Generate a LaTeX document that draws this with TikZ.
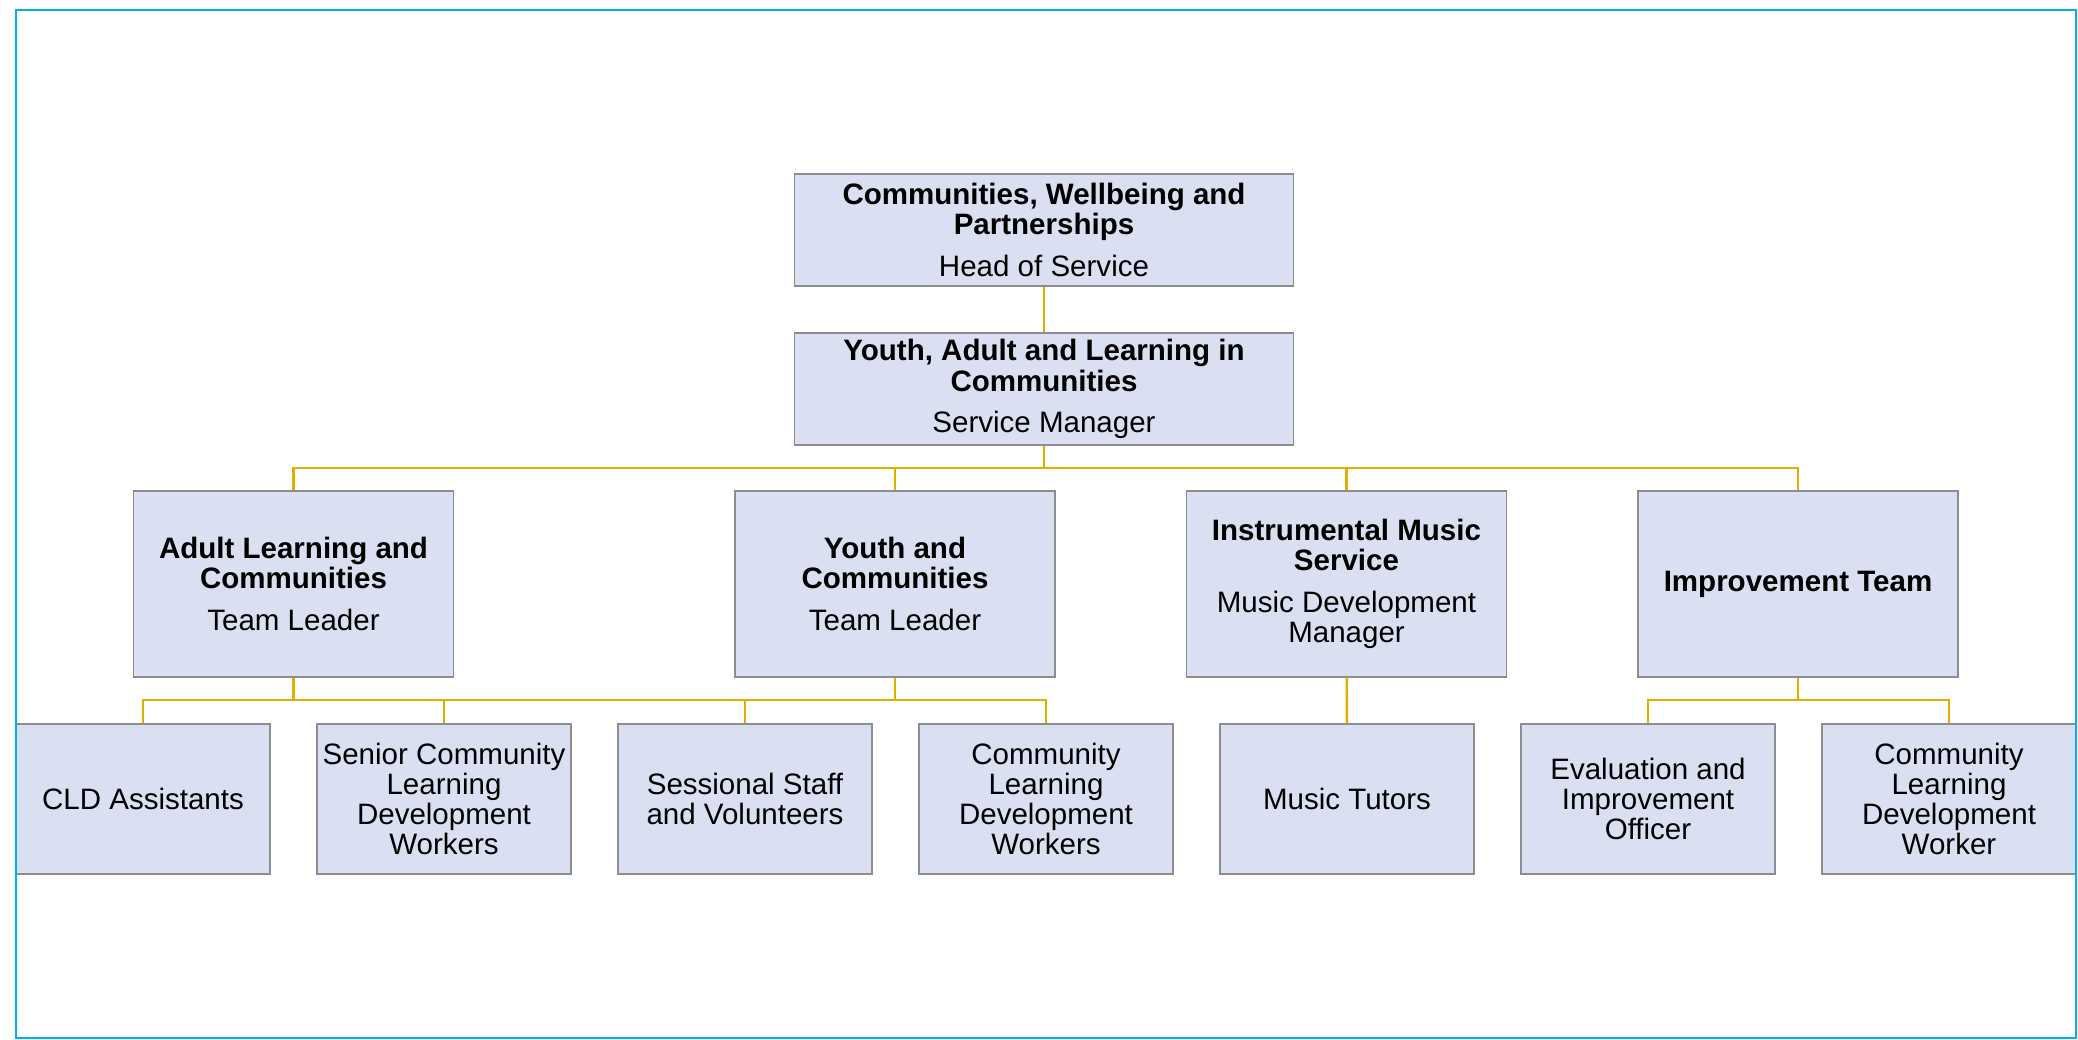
\documentclass[tikz,border=0pt]{standalone}
\usepackage{fontspec}
\setmainfont{Liberation Sans}
\usetikzlibrary{positioning}

\definecolor{boxfill}{RGB}{218,224,242}
\definecolor{boxline}{RGB}{140,140,146}
\definecolor{linkgold}{RGB}{228,174,0}
\definecolor{framecyan}{RGB}{0,176,240}

\tikzset{>=latex}
\tikzset{
  unit/.style={draw=boxline, line width=0.35pt, fill=boxfill, align=center, inner sep=1pt,
    font=\fontsize{8.4}{8.6}\selectfont},
  headbox/.style={unit, minimum width=4.99cm, minimum height=1.12cm},
  teambox/.style={unit, minimum width=3.2cm, minimum height=1.86cm},
  staffbox/.style={unit, minimum width=2.54cm, minimum height=1.5cm},
  link/.style={draw=linkgold, line width=0.7pt},
}

\begin{document}
\begin{tikzpicture}
      \useasboundingbox (0,0) rectangle (20.78,-10.40);
      % top of the chart
      \node[headbox] (n0) at (10.44,-2.30) {\textbf{Communities, Wellbeing and}\\\textbf{Partnerships}\\[3.2pt]Head of Service};
      \node[headbox, below of=n0, node distance=1.59cm] (n1) {\textbf{Youth, Adult and Learning in}\\\textbf{Communities}\\[3.2pt]Service Manager};
      % teams
      \node[teambox] (n2) at (2.935,-5.84) {\textbf{Adult Learning and}\\\textbf{Communities}\\[3.2pt]Team Leader};
      \node[teambox, right of=n2, node distance=6.015cm] (n3) {\textbf{Youth and}\\\textbf{Communities}\\[3.2pt]Team Leader};
      \node[teambox, right of=n3, node distance=4.515cm] (n4) {\textbf{Instrumental Music}\\\textbf{Service}\\[3.2pt]Music Development\\Manager};
      \node[teambox, right of=n4, node distance=4.515cm] (n5) {\textbf{Improvement Team}};
      % staff
      \node[staffbox] (n6) at (1.43,-7.99) {CLD Assistants};
      \node[staffbox, right of=n6, node distance=3.01cm] (n7) {Senior Community\\Learning\\Development\\Workers};
      \node[staffbox, right of=n7, node distance=3.01cm] (n8) {Sessional Staff\\and Volunteers};
      \node[staffbox, right of=n8, node distance=3.01cm] (n9) {Community\\Learning\\Development\\Workers};
      \node[staffbox, right of=n9, node distance=3.01cm] (n10) {Music Tutors};
      \node[staffbox, right of=n10, node distance=3.01cm] (n11) {Evaluation and\\Improvement\\Officer};
      \node[staffbox, right of=n11, node distance=3.01cm] (n12) {Community\\Learning\\Development\\Worker};
      \coordinate[below of=n1, node distance=0.79cm] (aux1);
      \coordinate[below of=n2, node distance=1.16cm] (aux2);
      \coordinate[below of=n5, node distance=1.16cm] (aux3);
      \draw[link] (n0) -- (n1);
      \draw[link] (n1) -- (aux1);
      \draw[link] (n2.north) |- (aux1) -| (n5.north);
      \draw[link] (n3) -- (n3 |- aux1);
      \draw[link] (n4) -- (n4 |- aux1);
      \draw[link] (n2) -- (aux2);
      \draw[link] (n6.north) |- (aux2) -| (n9.north);
      \draw[link] (n3) -- (n3 |- aux2);
      \draw[link] (n7) -- (n7 |- aux2);
      \draw[link] (n8) -- (n8 |- aux2);
      \draw[link] (n4) -- (n10);
      \draw[link] (n5) -- (aux3);
      \draw[link] (n11.north) |- (aux3) -| (n12.north);
      % outer frame
      \draw[framecyan, line width=0.6pt] (0.16,-0.10) rectangle (20.76,-10.38);
    \end{tikzpicture}
\end{document}
